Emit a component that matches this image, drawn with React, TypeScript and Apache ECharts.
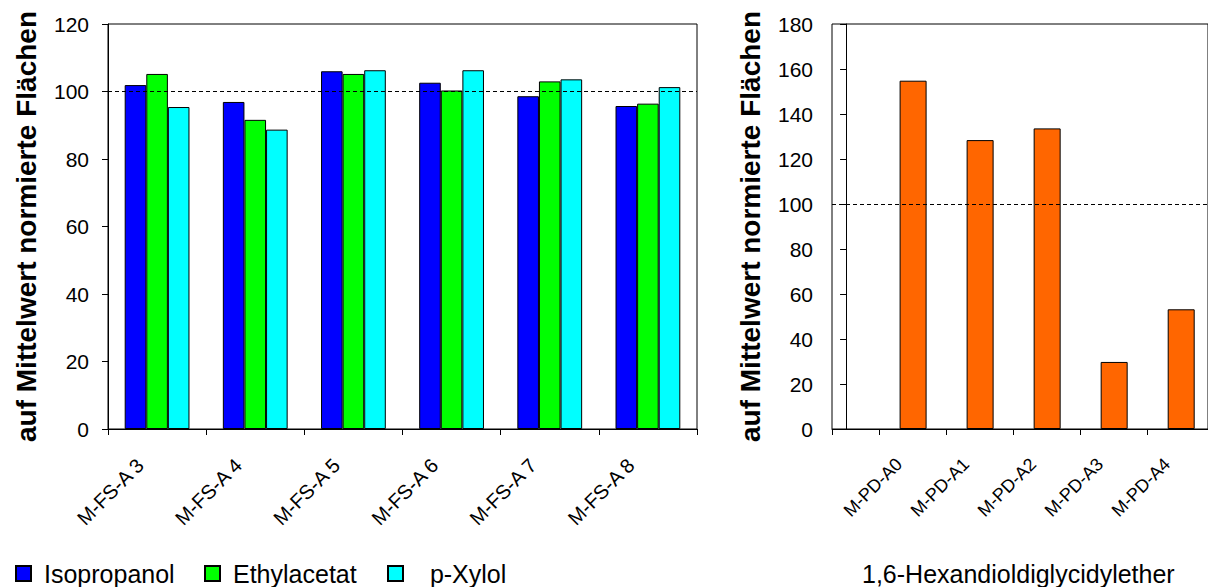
import React, { useEffect, useRef } from "react";
import * as echarts from "echarts";

const leftCategories = ["M-FS-A 3", "M-FS-A 4", "M-FS-A 5", "M-FS-A 6", "M-FS-A 7", "M-FS-A 8"];
const isopropanol = [101.9, 96.9, 106.0, 102.6, 98.6, 95.7];
const ethylacetat = [105.2, 91.6, 105.2, 100.3, 103.0, 96.4];
const pXylol = [95.4, 88.7, 106.3, 106.3, 103.6, 101.3];

const rightCategories = ["M-PD-A0", "M-PD-A1", "M-PD-A2", "M-PD-A3", "M-PD-A4"];
const hexandiol = [154.8, 128.4, 133.6, 29.8, 53.2];

const leftMax = 120;
const rightMax = 180;
const tickStep = 20;
const referenceValue = 100;
const yTitle = "auf Mittelwert normierte Flächen";
const caption = "1,6-Hexandioldiglycidylether";

const FONT = "'Liberation Sans', Arial, sans-serif";

export default function App() {
  const ref = useRef<HTMLDivElement>(null);
  useEffect(() => {
    document.body.style.margin = "0";
    if (!ref.current) return;
    const chart = echarts.init(ref.current, null, { renderer: "svg" });

    const refLine = {
      silent: true,
      symbol: "none",
      label: { show: false },
      lineStyle: { color: "#000", type: [4, 3], width: 1 },
      data: [{ yAxis: referenceValue }],
    };

    const barStyle = (c: string) => ({ color: c, borderColor: "#000", borderWidth: 1 });

    const axisLineStyle = { lineStyle: { color: "#000", width: 1 } };
    const tickStyle = { show: true, inside: false, length: 6, lineStyle: { color: "#000" } };

    const yAxisCommon = {
      type: "value",
      min: 0,
      interval: tickStep,
      axisLine: { show: true, ...axisLineStyle },
      axisTick: tickStyle,
      splitLine: { show: false },
      axisLabel: { fontSize: 21, color: "#000", fontFamily: FONT, margin: 19 },
      name: yTitle,
      nameLocation: "middle",
      nameGap: 68,
      nameTextStyle: { fontSize: 28, fontWeight: "bold", color: "#000", fontFamily: FONT },
    };

    const legendCommon = {
      top: 561,
      padding: 0,
      itemWidth: 15,
      itemHeight: 15,
      icon: "rect",
      textStyle: { fontSize: 25, color: "#000", fontFamily: FONT, padding: [0, 0, 0, 8] },
    };

    const option: any = {
      animation: false,
      textStyle: { fontFamily: FONT, color: "#000" },
      grid: [
        { left: 108, top: 24, width: 589, height: 405, show: true, borderColor: "#000", borderWidth: 1, backgroundColor: "transparent", containLabel: false },
        { left: 832, top: 24, width: 380, height: 405, show: true, borderColor: "#000", borderWidth: 1, backgroundColor: "transparent", containLabel: false },
      ],
      xAxis: [
        {
          type: "category",
          gridIndex: 0,
          data: leftCategories,
          axisLine: axisLineStyle,
          axisTick: tickStyle,
          splitLine: { show: false },
          axisLabel: { rotate: 45, fontSize: 20, color: "#000", fontFamily: FONT, margin: 16, interval: 0, padding: [0, 24, 0, 0] },
        },
        {
          type: "value",
          gridIndex: 1,
          min: -0.21,
          max: 5.4,
          axisLine: { onZero: false, ...axisLineStyle },
          axisTick: { ...tickStyle, customValues: [-0.21, 0.5, 1.5, 2.5, 3.5, 4.5] },
          splitLine: { show: false },
          axisLabel: {
            customValues: [1, 2, 3, 4, 5],
            rotate: 45,
            fontSize: 18,
            color: "#000",
            fontFamily: FONT,
            margin: 18,
            padding: [0, 20, 0, 0],
            formatter: (v: number) => rightCategories[Math.round(v) - 1] ?? "",
          },
        },
      ],
      yAxis: [
        { ...yAxisCommon, gridIndex: 0, max: leftMax },
        { ...yAxisCommon, gridIndex: 1, max: rightMax },
      ],
      legend: [
        { ...legendCommon, left: 15, data: ["Isopropanol"] },
        { ...legendCommon, left: 204, data: ["Ethylacetat"] },
        { ...legendCommon, left: 387, data: ["p-Xylol"], formatter: (n: string) => "  " + n },
      ],
      graphic: [
        {
          type: "text",
          x: 862,
          y: 574,
          style: { text: caption, fontSize: 25, fill: "#000", fontFamily: FONT, verticalAlign: "middle" },
        },
      ],
      series: [
        { name: "Isopropanol", type: "bar", xAxisIndex: 0, yAxisIndex: 0, data: isopropanol, itemStyle: barStyle("#0000FF"), barGap: "0%", barCategoryGap: "34%", markLine: refLine },
        { name: "Ethylacetat", type: "bar", xAxisIndex: 0, yAxisIndex: 0, data: ethylacetat, itemStyle: barStyle("#00FF00"), barGap: "0%", barCategoryGap: "34%" },
        { name: "p-Xylol", type: "bar", xAxisIndex: 0, yAxisIndex: 0, data: pXylol, itemStyle: barStyle("#00FFFF"), barGap: "0%", barCategoryGap: "34%" },
        {
          name: caption,
          type: "bar",
          xAxisIndex: 1,
          yAxisIndex: 1,
          barWidth: 27,
          data: hexandiol.map((v, i) => [i + 1, v]),
          itemStyle: barStyle("#FF6600"),
          markLine: refLine,
        },
      ],
    };
    chart.setOption(option);
    return () => chart.dispose();
  }, []);
  return <div ref={ref} style={{ width: 1208, height: 587 }} />;
}
